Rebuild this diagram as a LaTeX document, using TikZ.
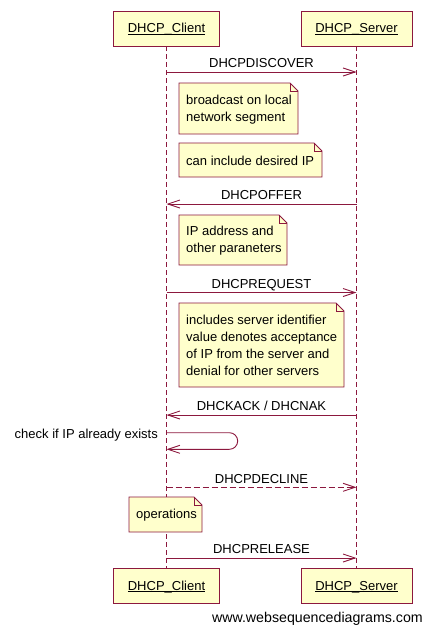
\documentclass[tikz,border=0pt]{standalone}
\usepackage{fontspec}
\setmainfont{Liberation Sans}
\usetikzlibrary{arrows.meta}
\definecolor{wsdline}{RGB}{140,24,62}
\definecolor{wsdfill}{RGB}{255,255,204}
\newlength\wsdlen
\newcommand{\wsdul}[1]{\settowidth{\wsdlen}{#1}\rlap{#1}\rule[-2.2pt]{\wsdlen}{0.8pt}}
\tikzset{
  every node/.style={font=\fontsize{13}{17}\selectfont},
  actorbox/.style={draw=wsdline, fill=wsdfill, line width=0.9pt, minimum width=106, minimum height=35, inner sep=0pt, text height=12pt, text depth=3pt},
  lifeline/.style={draw=wsdline, line width=0.9pt, dash pattern=on 5pt off 3pt},
  msg/.style={draw=wsdline, line width=0.9pt, -{Straight Barb[length=12pt,width=8pt,line width=0.9pt]}},
  dmsg/.style={msg, dash pattern=on 6pt off 3pt},
  msglabel/.style={inner sep=0pt, anchor=base},
  notetext/.style={anchor=west, inner sep=0pt, align=left},
}
% name, x, y, width, height
\newcommand{\wsdnote}[5]{%
  \coordinate (#1nw) at (#2,#3);
  \coordinate (#1se) at ({#2+#4},{#3+#5});
  \coordinate (#1ne) at ({#2+#4},#3);
  \coordinate (#1sw) at (#2,{#3+#5});
  \draw[wsdline, fill=wsdfill, line width=0.9pt]
    (#1nw) -- ([xshift=-8pt]#1ne) -- ([yshift=-8pt]#1ne)
    -- (#1se) -- (#1sw) -- cycle;
  \draw[wsdline, line width=0.9pt]
    ([xshift=-8pt]#1ne) -- ([xshift=-8pt,yshift=-8pt]#1ne) -- ([yshift=-8pt]#1ne);
  \coordinate (#1t) at ({#2+7},{#3+#5/2+0.8});
}
\begin{document}
\begin{tikzpicture}[x=1pt,y=-1pt]
\useasboundingbox (0,0) rectangle (427,626);
% participants
\node[actorbox] (ct) at (166.5,28.5) {\wsdul{DHCP\_Client}};
\node[actorbox, minimum width=111] (st) at (356.5,28.5) {\wsdul{DHCP\_Server}};
\node[actorbox] (cb) at (166.5,585.5) {\wsdul{DHCP\_Client}};
\node[actorbox, minimum width=111] (sb) at (356.5,585.5) {\wsdul{DHCP\_Server}};
\draw[lifeline] (ct.south) -- (cb.north);
\draw[lifeline] (st.south) -- (sb.north);
% endpoints
\foreach \n/\y in {1/72,2/204,3/292.5,4/415,5/432.7,6/449.3,7/487.3,8/558}{
  \coordinate (c\n) at (166.5,\y);
  \coordinate (s\n) at (356.5,\y);
}
% messages
\draw[msg] (c1) -- (s1);
\node[msglabel] (l1) at (261.5,67.5) {DHCPDISCOVER};
\draw[msg] (s2) -- (c2);
\node[msglabel] (l2) at (261.5,199.5) {DHCPOFFER};
\draw[msg] (c3) -- (s3);
\node[msglabel] (l3) at (261.5,288) {DHCPREQUEST};
\draw[msg] (s4) -- (c4);
\node[msglabel] (l4) at (261.5,410.5) {DHCKACK / DHCNAK};
\coordinate (selfr) at (229.4,432.7);
\draw[msg] (c5) -- (selfr) arc[start angle=-90, end angle=90, radius=8.3] -- (c6);
\node[inner sep=0pt, anchor=base east] (l5) at (158,438.5) {check if IP already exists};
\draw[dmsg] (c7) -- (s7);
\node[msglabel] (l7) at (261.5,483) {DHCPDECLINE};
\draw[msg] (c8) -- (s8);
\node[msglabel] (l8) at (261.5,553.5) {DHCPRELEASE};
% notes
\wsdnote{n1}{179}{83}{119}{51}
\node[notetext] (t1) at (n1t) {broadcast on local\\network segment};
\wsdnote{n2}{179}{143}{143}{34}
\node[notetext] (t2) at (n2t) {can include desired IP};
\wsdnote{n3}{179}{215}{108}{50}
\node[notetext] (t3) at (n3t) {IP address and\\other paraneters};
\wsdnote{n4}{179}{303}{165}{84}
\node[notetext] (t4) at (n4t) {includes server identifier\\value denotes acceptance\\of IP from the server and\\denial for other servers};
\wsdnote{n5}{129}{497}{73}{35}
\node[notetext] (t5) at (n5t) {operations};
% watermark
\node[inner sep=0pt, anchor=base east, font=\fontsize{14.2}{17}\selectfont] (wm) at (423,622) {www.websequencediagrams.com};
\end{tikzpicture}
\end{document}
